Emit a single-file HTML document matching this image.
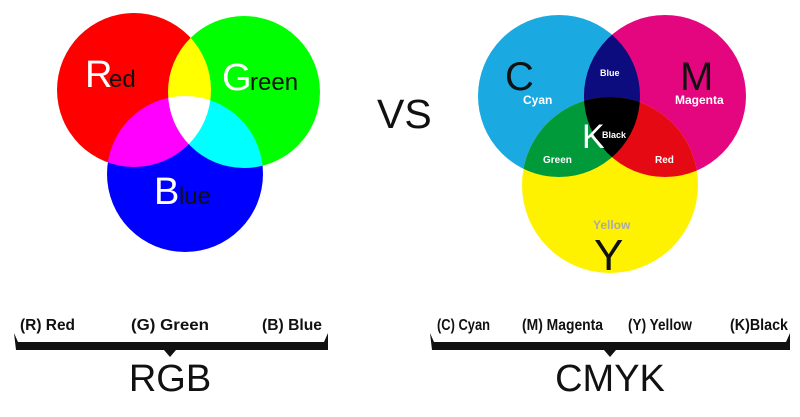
<!DOCTYPE html>
<html><head><meta charset="utf-8"><style>
html,body{margin:0;padding:0;background:#fff;}
svg{display:block}
text{font-family:"Liberation Sans",sans-serif}
.n{font-family:"Liberation Sans Narrow","Liberation Sans",sans-serif;font-weight:bold}
</style></head><body>
<svg width="800" height="417" viewBox="0 0 800 417" xmlns="http://www.w3.org/2000/svg">
<defs>
 <clipPath id="cC"><circle cx="559" cy="96" r="81"/></clipPath>
 <clipPath id="cM"><circle cx="665" cy="96" r="81"/></clipPath>
</defs>
<rect width="800" height="417" fill="#fff"/>
<g style="isolation:isolate">
 <circle cx="134" cy="90" r="77" fill="#ff0000"/>
 <circle cx="244" cy="92" r="76" fill="#00ff00" style="mix-blend-mode:lighten"/>
 <circle cx="185" cy="174" r="78" fill="#0000ff" style="mix-blend-mode:lighten"/>
</g>
<text x="85" y="87" font-size="38" fill="#fff">R</text><text x="109" y="87" font-size="24" fill="#111">ed</text>
<text x="222" y="90" font-size="38" fill="#fff">G</text><text x="250" y="90" font-size="24" fill="#111">reen</text>
<text x="154" y="204" font-size="38" fill="#fff">B</text><text x="179" y="204" font-size="24" fill="#111">lue</text>

<text x="377" y="128" font-size="41" fill="#111">VS</text>

<circle cx="559" cy="96" r="81" fill="#1ba9e1"/>
<circle cx="665" cy="96" r="81" fill="#e4067f"/>
<circle cx="610" cy="185" r="88" fill="#fff200"/>
<circle cx="665" cy="96" r="81" fill="#0c0c7e" clip-path="url(#cC)"/>
<circle cx="610" cy="185" r="88" fill="#019a3a" clip-path="url(#cC)"/>
<circle cx="610" cy="185" r="88" fill="#e50914" clip-path="url(#cM)"/>
<g clip-path="url(#cC)"><circle cx="610" cy="185" r="88" fill="#000" clip-path="url(#cM)"/></g>

<text x="505" y="90" font-size="40" fill="#111">C</text>
<text x="523" y="104" class="n" font-size="12" fill="#fff">Cyan</text>
<text x="680" y="90" font-size="40" fill="#111">M</text>
<text x="675" y="104" class="n" font-size="12" fill="#fff">Magenta</text>
<text x="600" y="76" class="n" font-size="9" fill="#fff">Blue</text>
<text x="582" y="148" font-size="34" fill="#fff">K</text>
<text x="602" y="138" class="n" font-size="9" fill="#fff">Black</text>
<text x="543" y="163" class="n" font-size="10" fill="#fff">Green</text>
<text x="655" y="163" class="n" font-size="10" fill="#fff">Red</text>
<text x="593" y="229" class="n" font-size="12" fill="#aaa">Yellow</text>
<text x="594" y="270" font-size="44" fill="#111">Y</text>

<g class="n" font-size="16" fill="#111">
 <text x="20" y="330" textLength="55" lengthAdjust="spacingAndGlyphs">(R) Red</text>
 <text x="131" y="330" textLength="78" lengthAdjust="spacingAndGlyphs">(G) Green</text>
 <text x="262" y="330" textLength="60" lengthAdjust="spacingAndGlyphs">(B) Blue</text>
 <text x="437" y="330" textLength="53" lengthAdjust="spacingAndGlyphs">(C) Cyan</text>
 <text x="522" y="330" textLength="81" lengthAdjust="spacingAndGlyphs">(M) Magenta</text>
 <text x="628" y="330" textLength="64" lengthAdjust="spacingAndGlyphs">(Y) Yellow</text>
 <text x="730" y="330" textLength="58" lengthAdjust="spacingAndGlyphs">(K)Black</text>
</g>
<g fill="#111">
 <path d="M14 333 L18 342 L324 342 L328 333 L328 350 L176 350 L170 357 L164 350 L16 350 Z"/>
 <path d="M430 333 L434 342 L786 342 L790 333 L790 350 L616 350 L610 357 L604 350 L432 350 Z"/>
</g>
<text x="170" y="391" font-size="38" fill="#111" text-anchor="middle">RGB</text>
<text x="610" y="391" font-size="38" fill="#111" text-anchor="middle">CMYK</text>
</svg>
</body></html>
